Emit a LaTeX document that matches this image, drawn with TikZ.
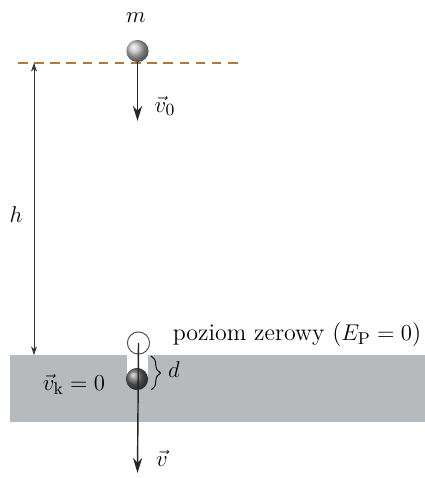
\documentclass[tikz,border=0pt]{standalone}
\usepackage{amsmath}
\usetikzlibrary{arrows.meta,decorations.pathreplacing}

\definecolor{bandgray}{RGB}{183,186,188}
\definecolor{dashorange}{RGB}{176,120,60}

\begin{document}
\begin{tikzpicture}[
  x=0.0185cm, y=-0.0185cm,
  font=\fontsize{12.6}{15}\selectfont,
  ball/.style={
    circle,
    inner sep=0pt,
    minimum size=0.41cm
  },
  ghostball/.style={
    ball,
    draw=black!70,
    line width=0.5pt,
    fill=white
  },
  vecarrow/.style={-{Stealth[length=2.8mm,width=1.7mm]}, line width=0.75pt, draw=black!85},
  harrow/.style={{Stealth[length=1.6mm,width=1.1mm]}-{Stealth[length=1.6mm,width=1.1mm]}, line width=0.4pt, draw=black!80}
]

\useasboundingbox (0,0) rectangle (425,478);

% zero level band
\fill[bandgray] (10,355) rectangle (425,422);
\fill[white] (127,355) rectangle (148,379);

% starting height
\draw[dashorange, dash pattern=on 5pt off 3.5pt, line width=0.6pt] (18,63) -- (240,63);

\coordinate (hTop) at (34,63);
\coordinate (hBot) at (34,355);
\draw[harrow] (hTop) -- (hBot);
\node (hLabel) at (16,215) {$h$};

% balls
\node[ball, shade, ball color=black!25] (ballTop) at (137.5,51) {};
\node[ghostball] (ballGhost) at (138.5,343) {};
\node[ball, shade, ball color=black!60] (ballLow) at (137,379) {};

\node (mLabel) at (136,18) {$m$};

\coordinate (vZeroEnd) at (137.5,121);
\draw[vecarrow] (ballTop.south) -- (vZeroEnd);
\node (vZeroLabel) at (165,106) {$\vec{v}_{0}$};

\coordinate (vEnd) at (137.5,473);
\draw[vecarrow] (ballGhost.center) -- (vEnd);
\node (vLabel) at (162,458) {$\vec{v}$};

% penetration depth
\draw[decorate, decoration={brace, amplitude=5pt}, line width=0.5pt]
  (151,356) -- (151,390);
\node (dLabel) at (174,370) {$d$};

\node (vkLabel) at (74,384) {$\vec{v}_{\mathrm{k}} = 0$};
\node (zeroLabel) at (297,335) {poziom zerowy ($E_{\mathrm{P}} = 0$)};

\end{tikzpicture}
\end{document}
